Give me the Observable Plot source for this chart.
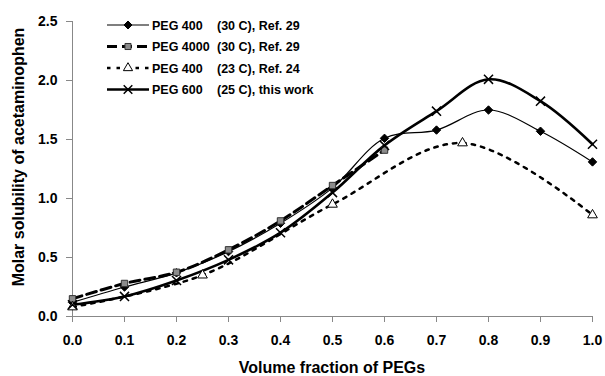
<!DOCTYPE html>
<html>
<head>
<meta charset="utf-8">
<script src="https://cdn.jsdelivr.net/npm/d3@7"></script>
<script src="https://cdn.jsdelivr.net/npm/@observablehq/plot@0.6"></script>
<style>
  html, body { margin: 0; padding: 0; background: #fff; }
  #chart { width: 605px; height: 376px; }
  svg text { font-family: "Liberation Sans", Arial, sans-serif; }
</style>
</head>
<body>
<div id="chart"></div>
<script>
// ---- data ----
const fraction = [0, 0.1, 0.2, 0.3, 0.4, 0.5, 0.6, 0.7, 0.8, 0.9, 1.0];
const peg400_30 = [0.12, 0.25, 0.37, 0.55, 0.79, 1.09, 1.51, 1.58, 1.75, 1.57, 1.31];
const peg4000_30_x = [0, 0.1, 0.2, 0.3, 0.4, 0.5, 0.6];
const peg4000_30 = [0.15, 0.28, 0.375, 0.565, 0.81, 1.11, 1.41];
const peg400_23_x = [0, 0.25, 0.5, 0.75, 1.0];
const peg400_23 = [0.08, 0.35, 0.95, 1.47, 0.86];
const peg600_25 = [0.10, 0.17, 0.305, 0.48, 0.71, 1.05, 1.45, 1.74, 2.01, 1.825, 1.46];

const xTicks = [0, 0.1, 0.2, 0.3, 0.4, 0.5, 0.6, 0.7, 0.8, 0.9, 1.0];
const yTicks = [0, 0.5, 1.0, 1.5, 2.0, 2.5];
const xTitle = "Volume fraction of PEGs";
const yTitle = "Molar solubility of acetaminophen";

const legendNames = ["PEG 400", "PEG 4000", "PEG 400", "PEG 600"];
const legendConds = ["(30 C), Ref. 29", "(30 C), Ref. 29", "(23 C), Ref. 24", "(25 C), this work"];

// ---- tables ----
const zip = (xs, ys) => xs.map((x, i) => ({x, y: ys[i]}));
const s1 = zip(fraction, peg400_30);
const s2 = zip(peg4000_30_x, peg4000_30);
const s3 = zip(peg400_23_x, peg400_23);
const s4 = zip(fraction, peg600_25);

const styles = [
  {stroke: "#000", strokeWidth: 1.2, dash: null, symbol: "diamond2", fill: "#000", mstroke: "#000", r: 3.8},
  {stroke: "#000", strokeWidth: 3, dash: "10,5", symbol: "square", fill: "#8c8c8c", mstroke: "#333", r: 3.6},
  {stroke: "#000", strokeWidth: 2.5, dash: "3.5,6", symbol: "triangle", fill: "#fff", mstroke: "#000", r: 3.6},
  {stroke: "#000", strokeWidth: 2.6, dash: null, symbol: "times", fill: "none", mstroke: "#000", r: 4.2}
];
const series = [s1, s2, s3, s4];

const marks = [
  Plot.ruleY([0], {stroke: "#888", strokeWidth: 1}),
  Plot.ruleX([0], {stroke: "#888", strokeWidth: 1}),
  Plot.axisX({ticks: xTicks, tickFormat: d => d.toFixed(1), tickSize: 6, tickPadding: 13,
    fontSize: 14, fontWeight: "bold", label: null, stroke: "#888"}),
  Plot.axisY({ticks: yTicks, tickFormat: d => d.toFixed(1), tickSize: 6, tickPadding: 9,
    fontSize: 14, fontWeight: "bold", label: null, stroke: "#888"})
];
series.forEach((s, i) => {
  const st = styles[i];
  marks.push(Plot.line(s, {x: "x", y: "y", curve: "catmull-rom", stroke: st.stroke,
    strokeWidth: st.strokeWidth, strokeDasharray: st.dash || undefined}));
});
series.forEach((s, i) => {
  const st = styles[i];
  marks.push(Plot.dot(s, {x: "x", y: "y", symbol: () => st.symbol, r: st.r,
    fill: st.symbol === "times" ? "none" : st.fill, stroke: st.mstroke,
    strokeWidth: st.symbol === "times" ? 1.5 : 1}));
});

const chart = Plot.plot({
  width: 605,
  height: 376,
  marginLeft: 72,
  marginRight: 13,
  marginTop: 21,
  marginBottom: 60,
  x: {domain: [0, 1]},
  y: {domain: [0, 2.5]},
  style: {fontFamily: '"Liberation Sans", Arial, sans-serif', color: "#000", background: "#fff"},
  marks
});
document.getElementById("chart").appendChild(chart);

// ---- titles and legend ----
const svg = d3.select(chart);
svg.append("text")
  .attr("x", 332).attr("y", 373)
  .attr("text-anchor", "middle")
  .style("font-size", "16px").style("font-weight", "bold")
  .text(xTitle);
svg.append("text")
  .attr("transform", "translate(24,157) rotate(-90)")
  .attr("text-anchor", "middle")
  .style("font-size", "16px").style("font-weight", "bold")
  .text(yTitle);

const lg = svg.append("g").attr("text-anchor", "start");
const rowY = [25, 46.5, 68, 89.5];
const symMap = {diamond2: d3.symbolDiamond2, square: d3.symbolSquare, triangle: d3.symbolTriangle, times: d3.symbolTimes};
legendNames.forEach((name, i) => {
  const st = styles[i];
  const y = rowY[i];
  lg.append("line")
    .attr("x1", 107).attr("x2", 149).attr("y1", y).attr("y2", y)
    .attr("stroke", st.stroke).attr("stroke-width", st.strokeWidth)
    .attr("stroke-dasharray", st.dash);
  lg.append("path")
    .attr("transform", `translate(128,${y})`)
    .attr("d", d3.symbol(symMap[st.symbol], Math.PI * st.r * st.r * 0.9)())
    .attr("fill", st.symbol === "times" ? "none" : st.fill)
    .attr("stroke", st.mstroke).attr("stroke-width", st.symbol === "times" ? 1.5 : 1);
  lg.append("text").attr("x", 152).attr("y", y + 4.5).attr("text-anchor", "start")
    .style("font-size", "12.5px").style("font-weight", "bold").text(name);
  lg.append("text").attr("x", 217).attr("y", y + 4.5).attr("text-anchor", "start")
    .style("font-size", "12.5px").style("font-weight", "bold").text(legendConds[i]);
});
</script>
</body>
</html>
